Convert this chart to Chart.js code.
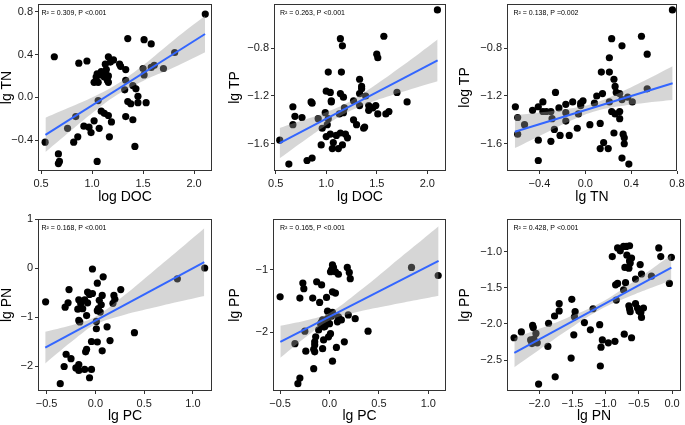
<!DOCTYPE html>
<html lang="en">
<head>
<meta charset="UTF-8">
<title>Nutrient regressions</title>
<script src="https://cdn.jsdelivr.net/npm/chart.js@4.4.0/dist/chart.umd.min.js"></script>
<style>
  body { margin: 0; background: #fff; }
  #wrap { position: relative; width: 685px; height: 425px; overflow: hidden; }
  canvas { position: absolute; }
</style>
</head>
<body>
<div id="wrap"></div>
<script>
// panel 1: log DOC vs lg TN
const p1x = [2.11,0.63,0.87,0.95,1.35,1.51,1.58,1.81,1.70,1.61, 1.58,1.50,1.51,1.16,1.21,1.18,1.13,1.27,1.28,1.33,
             1.14,1.13,1.09,1.05,1.04,1.08,1.12,1.16,1.02,1.06, 1.15,1.16,1.33,1.40,1.43,1.32,1.45,1.35,1.38,1.45,
             1.53,1.06,1.09,1.12,1.16,1.19,1.33,1.40,0.84,0.76, 0.92,0.97,1.02,0.99,1.07,1.17,0.86,0.82,0.54,1.42,
             0.67,0.68,0.67,1.05];
const p1y = [0.78,0.38,0.32,0.34,0.55,0.54,0.50,0.42,0.27,0.30, 0.28,0.27,0.21,0.38,0.35,0.33,0.31,0.31,0.29,0.26,
             0.26,0.23,0.24,0.22,0.19,0.21,0.19,0.20,0.14,0.14, 0.16,0.14,0.16,0.11,0.08,0.07,0.01,-0.04,-0.06,-0.05,
             -0.05,-0.03,-0.13,-0.15,-0.17,-0.23,-0.18,-0.21,-0.18,-0.29, -0.27,-0.28,-0.22,-0.33,-0.29,-0.37,-0.37,-0.42,-0.42,-0.46,
             -0.53,-0.60,-0.62,-0.60];
const p1fitX = [0.543, 2.108];
const p1fitY = [-0.351, 0.593];
const p1bandX = [0.543, 0.8, 1.05, 1.25, 1.5, 1.8, 2.108];
const p1bandHi = [-0.191, -0.087, 0.021, 0.126, 0.300, 0.535, 0.763];
const p1bandLo = [-0.511, -0.305, -0.111, 0.026, 0.154, 0.279, 0.423];

// panel 2: lg DOC vs lg TP
const p2x = [2.10,1.14,1.16,1.57,1.50,1.51,1.02,1.15,1.33,1.35, 1.35,1.33,1.00,1.04,1.14,1.17,1.39,1.70,1.80,1.27,
             1.05,1.05,0.85,0.86,1.33,1.42,1.49,1.46,1.42,0.67, 1.18,1.17,1.13,0.99,1.51,1.59,1.62,0.69,0.76,0.92,
             1.27,1.02,0.67,1.30,1.38,1.37,0.96,1.01,1.14,1.04, 1.00,1.10,1.19,1.21,0.54,0.95,1.07,1.16,1.06,1.12,
             0.86,0.81,0.63];
const p2y = [-0.48,-0.72,-0.78,-0.70,-0.85,-0.88,-1.00,-1.00,-1.06,-1.12, -1.14,-1.18,-1.16,-1.17,-1.18,-1.21,-1.20,-1.17,-1.25,-1.24,
             -1.24,-1.25,-1.25,-1.26,-1.28,-1.28,-1.28,-1.30,-1.32,-1.29, -1.30,-1.34,-1.35,-1.34,-1.35,-1.35,-1.33,-1.37,-1.38,-1.39,
             -1.40,-1.39,-1.44,-1.44,-1.46,-1.47,-1.47,-1.44,-1.51,-1.52, -1.54,-1.53,-1.52,-1.55,-1.57,-1.61,-1.59,-1.61,-1.64,-1.64,
             -1.72,-1.74,-1.77];
const p2fitX = [0.539, 2.102];
const p2fitY = [-1.594, -0.902];
const p2bandX = [0.539, 0.8, 1.0, 1.2, 1.45, 1.75, 2.102];
const p2bandHi = [-1.467, -1.395, -1.336, -1.261, -1.129, -0.950, -0.727];
const p2bandLo = [-1.722, -1.562, -1.444, -1.341, -1.251, -1.167, -1.077];

// panel 3: lg TN vs log TP
const p3x = [0.76,0.49,0.23,0.32,0.54,0.21,0.14,0.21,0.25,0.26, -0.26,0.15,0.27,0.30,0.10,0.54,0.41,0.37,0.32,0.21,
             0.08,-0.02,-0.04,-0.11,-0.17,-0.37,-0.41,-0.17,-0.23,-0.30, -0.34,-0.37,-0.61,-0.59,-0.46,-0.53,-0.59,-0.29,-0.27,-0.22,
             -0.17,-0.06,-0.04,-0.07,0.04,-0.14,-0.41,-0.30,-0.41,0.13, 0.23,0.26,0.30,0.30,0.25,0.33,0.34,0.34,0.16,0.13,
             0.20,0.32,0.38];
const p3y = [-0.48,-0.70,-0.72,-0.78,-0.85,-0.88,-1.00,-1.00,-1.06,-1.12, -1.17,-1.18,-1.17,-1.18,-1.20,-1.14,-1.25,-1.21,-1.23,-1.25,
             -1.26,-1.24,-1.26,-1.25,-1.27,-1.25,-1.29,-1.34,-1.30,-1.33, -1.33,-1.33,-1.29,-1.38,-1.32,-1.44,-1.52,-1.39,-1.48,-1.53,
             -1.41,-1.35,-1.28,-1.47,-1.44,-1.53,-1.57,-1.58,-1.74,-1.43, -1.33,-1.35,-1.33,-1.39,-1.51,-1.52,-1.55,-1.60,-1.59,-1.64,
             -1.64,-1.72,-1.77];
const p3fitX = [-0.614, 0.762];
const p3fitY = [-1.499, -1.093];
const p3bandX = [-0.614, -0.4, -0.15, 0.07, 0.3, 0.55, 0.762];
const p3bandHi = [-1.362, -1.339, -1.307, -1.262, -1.172, -1.056, -0.952];
const p3bandLo = [-1.636, -1.534, -1.417, -1.332, -1.286, -1.254, -1.234];

// panel 4: lg PC vs lg PN
const p4x = [1.12,0.84,-0.51,-0.03,0.08,0.02,-0.27,0.26,-0.28,-0.31, -0.17,-0.15,-0.11,-0.08,-0.06,-0.03,-0.08,-0.13,-0.18,0.04,
             0.07,0.06,0.03,0.19,0.20,0.18,0.02,0.05,-0.09,-0.17, -0.16,0.01,0.01,0.12,-0.30,-0.32,-0.25,-0.10,-0.09,-0.04,
             0.02,0.15,0.07,0.40,-0.17,-0.17,-0.11,-0.04,-0.06,-0.36, -0.20];
const p4y = [0.00,-0.22,-0.69,-0.02,-0.18,-0.31,-0.44,-0.44,-0.71,-0.80, -0.65,-0.73,-0.65,-0.49,-0.54,-0.52,-0.71,-0.83,-0.84,-0.66,
             -0.56,-0.75,-0.83,-0.56,-0.64,-0.72,-0.87,-0.90,-0.97,-1.07, -1.10,-1.09,-1.24,-1.20,-1.76,-2.01,-1.85,-1.71,-1.66,-1.50,
             -1.51,-1.48,-1.69,-1.32,-1.97,-2.09,-2.07,-2.07,-2.24,-2.36, -2.04];
const p4fitX = [-0.514, 1.116];
const p4fitY = [-1.626, 0.121];
const p4bandX = [-0.514, -0.2, 0.0, 0.3, 0.6, 0.85, 1.116];
const p4bandHi = [-1.303, -1.143, -0.995, -0.553, -0.058, 0.360, 0.811];
const p4bandLo = [-1.949, -1.435, -1.155, -0.953, -0.806, -0.688, -0.569];

// panel 5: lg PC vs lg PP
const p5x = [1.10,0.83,-0.50,0.03,0.04,0.02,0.06,0.09,0.01,0.18, 0.20,0.21,-0.27,-0.26,-0.13,-0.08,-0.30,-0.17,-0.10,-0.03,
             0.03,0.06,-0.02,0.03,0.02,-0.02,-0.07,-0.08,-0.09,-0.04, -0.05,0.00,-0.11,-0.06,0.09,0.08,0.12,0.19,0.26,0.01,
             -0.01,-0.06,-0.14,-0.15,-0.15,-0.16,-0.15,-0.25,-0.24,-0.07, 0.07,0.15,0.39,0.03,-0.16,-0.30,-0.32,-0.35];
const p5y = [-1.09,-0.96,-1.43,-0.92,-0.96,-1.00,-1.03,-1.07,-1.03,-0.96, -1.04,-1.14,-1.21,-1.30,-1.19,-1.24,-1.45,-1.45,-1.52,-1.44,
             -1.35,-1.37,-1.66,-1.68,-1.74,-1.78,-1.80,-1.83,-1.86,-1.88, -1.91,-1.86,-1.96,-1.91,-1.75,-1.83,-1.80,-1.72,-1.78,-2.02,
             -2.07,-2.12,-2.07,-2.15,-2.20,-2.27,-2.31,-1.98,-2.30,-2.26, -2.24,-2.15,-1.98,-2.46,-2.58,-2.73,-2.82,-2.18];
const p5fitX = [-0.498, 1.104];
const p5fitY = [-2.150, -0.856];
const p5bandX = [-0.498, -0.2, 0.0, 0.3, 0.6, 0.85, 1.104];
const p5bandHi = [-1.894, -1.792, -1.688, -1.343, -0.956, -0.631, -0.300];
const p5bandLo = [-2.407, -2.026, -1.808, -1.667, -1.570, -1.491, -1.412];

// panel 6: lg PN vs lg PP
const p6x = [-2.38,-2.27,-2.10,-2.09,-2.05,-2.13,-2.11,-2.08,-2.03,-2.01, -1.87,-1.86,-1.77,-1.70,-1.70,-1.76,-1.51,-1.46,-1.47,-1.48,
             -1.52,-1.32,-1.23,-1.19,-1.09,-1.05,-1.07,-1.08,-0.96,-0.86, -0.90,-0.82,-0.78,-0.73,-0.69,-0.64,-0.68,-0.61,-0.64,-0.71,
             -0.65,-0.63,-0.48,-0.46,-0.55,-0.31,-0.20,-0.17,-0.01,-0.04, -0.85,-0.82,-0.70,-0.73,-0.84,-0.65,-0.64,-0.63,-0.55,-0.52,
             -0.50,-0.46,-0.43,-0.47,-0.72,-0.61];
const p6y = [-2.19,-2.11,-2.02,-2.05,-2.13,-2.22,-2.27,-2.21,-2.26,-2.83, -2.31,-1.99,-1.89,-1.72,-1.82,-2.73,-1.66,-1.83,-1.90,-2.15,
             -2.47,-1.98,-2.08,-1.79,-2.01,-2.22,-2.32,-2.58,-2.26,-2.24, -1.07,-0.95,-0.99,-0.93,-0.93,-0.92,-1.05,-1.09,-1.13,-1.22,
             -1.23,-1.16,-1.18,-1.31,-1.38,-1.34,-0.95,-1.07,-1.08,-1.44, -1.46,-1.44,-1.43,-1.53,-1.67,-1.75,-1.79,-1.83,-1.72,-1.78,
             -1.82,-1.91,-1.78,-1.84,-2.14,-2.19];
const p6fitX = [-2.376, -0.01];
const p6fitY = [-2.398, -1.222];
const p6bandX = [-2.376, -2.0, -1.6, -1.1, -0.6, -0.3, -0.01];
const p6bandHi = [-2.198, -2.067, -1.924, -1.719, -1.427, -1.236, -1.049];
const p6bandLo = [-2.598, -2.356, -2.101, -1.809, -1.604, -1.496, -1.395];

const xTitles = ['log DOC', 'lg DOC', 'lg TN', 'lg PC', 'lg PC', 'lg PN'];
const yTitles = ['lg TN', 'lg TP', 'log TP', 'lg PN', 'lg PP', 'lg PP'];
const statText = ['R\u00B2 = 0.309, P <0.001', 'R\u00B2 = 0.263, P <0.001', 'R\u00B2 = 0.138, P =0.002',
                  'R\u00B2 = 0.168, P <0.001', 'R\u00B2 = 0.165, P <0.001', 'R\u00B2 = 0.428, P <0.001'];
const xTicks = [[0.5, 1, 1.5, 2], [0.5, 1, 1.5, 2], [-0.4, 0, 0.4, 0.8],
                [-0.5, 0, 0.5, 1], [-0.5, 0, 0.5, 1], [-2, -1.5, -1, -0.5, 0]];
const yTicks = [[-0.4, 0, 0.4, 0.8], [-1.6, -1.2, -0.8], [-1.6, -1.2, -0.8],
                [-2, -1, 0, 1], [-2, -1], [-2.5, -2, -1.5, -1]];
const yDecimals = [1, 1, 1, 0, 0, 1];
const xLimits = [[0.47, 2.176], [0.483, 2.185], [-0.683, 0.80], [-0.588, 1.195], [-0.572, 1.179], [-2.486, 0.135]];
const yLimits = [[-0.69, 0.874], [-1.828, -0.43], [-1.828, -0.43], [-2.51, 1.0], [-2.937, -0.186], [-2.925, -0.551]];

const series = [
  [p1x, p1y, p1fitX, p1fitY, p1bandX, p1bandHi, p1bandLo],
  [p2x, p2y, p2fitX, p2fitY, p2bandX, p2bandHi, p2bandLo],
  [p3x, p3y, p3fitX, p3fitY, p3bandX, p3bandHi, p3bandLo],
  [p4x, p4y, p4fitX, p4fitY, p4bandX, p4bandHi, p4bandLo],
  [p5x, p5y, p5fitX, p5fitY, p5bandX, p5bandHi, p5bandLo],
  [p6x, p6y, p6fitX, p6fitY, p6bandX, p6bandHi, p6bandLo]
];

// where each panel sits, and where its plot box sits inside it
const layout = [
  {left: 0,   top: 0,   w: 225, h: 205, box: {l: 38, r: 212, t: 1,  b: 171}, yt: 0, xt: 1, sx: 3.5},
  {left: 225, top: 0,   w: 225, h: 205, box: {l: 49, r: 222, t: 1,  b: 171}, yt: 3, xt: 1, sx: 6},
  {left: 450, top: 0,   w: 235, h: 205, box: {l: 57, r: 227, t: 1,  b: 171}, yt: 8, xt: 1, sx: 6.5},
  {left: 0,   top: 205, w: 225, h: 220, box: {l: 38, r: 212, t: 14, b: 186}, yt: 0, xt: 2, sx: 3.5},
  {left: 225, top: 205, w: 225, h: 220, box: {l: 48, r: 221, t: 14, b: 186}, yt: 3, xt: 2, sx: 7},
  {left: 450, top: 205, w: 235, h: 220, box: {l: 57, r: 231, t: 14, b: 186}, yt: 8, xt: 2, sx: 6.5}
];

const family = "'Liberation Sans', Arial, Helvetica, sans-serif";
const fmt = (v, d) => (v < 0 ? '\u2212' : '') + Math.abs(v).toFixed(d);
const pairs = (xs, ys) => xs.map((v, k) => ({x: v, y: ys[k]}));

const frame = {
  id: 'frame',
  afterDraw(chart, args, opts) {
    const {ctx, chartArea: a} = chart;
    ctx.save();
    ctx.strokeStyle = '#333';
    ctx.lineWidth = 1;
    ctx.strokeRect(a.left + 0.5, a.top + 0.5, a.right - a.left - 1, a.bottom - a.top - 1);
    ctx.fillStyle = '#000';
    ctx.font = '7px ' + family;
    ctx.textBaseline = 'middle';
    ctx.fillText(opts.text, a.left + opts.dx, a.top + 9.5);
    ctx.restore();
  }
};

const wrap = document.getElementById('wrap');

layout.forEach((p, i) => {
  const [xs, ys, fx, fy, bx, bhi, blo] = series[i];
  const cv = document.createElement('canvas');
  cv.width = p.w;
  cv.height = p.h;
  cv.style.left = p.left + 'px';
  cv.style.top = p.top + 'px';
  cv.style.width = p.w + 'px';
  cv.style.height = p.h + 'px';
  wrap.appendChild(cv);

  new Chart(cv, {
    type: 'scatter',
    data: {
      datasets: [
        {data: pairs(xs, ys), backgroundColor: '#000', pointRadius: 3.6, borderWidth: 0, order: 3, clip: false},
        {type: 'line', data: pairs(bx, bhi), borderColor: 'transparent', borderWidth: 0, pointRadius: 0,
         tension: 0.4, fill: '+1', backgroundColor: 'rgba(153,153,153,0.4)', order: 2},
        {type: 'line', data: pairs(bx, blo), borderColor: 'transparent', borderWidth: 0, pointRadius: 0,
         tension: 0.4, fill: false, order: 2},
        {type: 'line', data: pairs(fx, fy), borderColor: '#3366FF', borderWidth: 2, pointRadius: 0,
         fill: false, order: 1}
      ]
    },
    options: {
      responsive: false,
      animation: false,
      devicePixelRatio: 1,
      layout: {padding: {left: 0, top: p.box.t, right: p.w - p.box.r, bottom: 0}},
      plugins: {
        legend: {display: false},
        tooltip: {enabled: false},
        frame: {text: statText[i], dx: p.sx}
      },
      scales: {
        x: {
          type: 'linear',
          min: xLimits[i][0],
          max: xLimits[i][1],
          afterBuildTicks: s => { s.ticks = xTicks[i].map(v => ({value: v})); },
          afterFit: s => { s.height = p.h - p.box.b; s.paddingLeft = 0; s.paddingRight = 0; },
          ticks: {callback: v => fmt(v, 1), font: {family, size: 11}, color: '#1a1a1a',
                  padding: 3, maxRotation: 0, autoSkip: false},
          grid: {drawOnChartArea: false, drawTicks: true, tickLength: 3, color: '#333'},
          border: {display: false},
          title: {display: true, text: xTitles[i], color: '#000',
                  font: {family, size: 14, lineHeight: 1}, padding: {top: 0, bottom: p.xt}}
        },
        y: {
          type: 'linear',
          min: yLimits[i][0],
          max: yLimits[i][1],
          afterBuildTicks: s => { s.ticks = yTicks[i].map(v => ({value: v})); },
          afterFit: s => { s.width = p.box.l; s.paddingTop = 0; s.paddingBottom = 0; },
          ticks: {callback: v => fmt(v, yDecimals[i]), font: {family, size: 11}, color: '#1a1a1a',
                  padding: 2, autoSkip: false},
          grid: {drawOnChartArea: false, drawTicks: true, tickLength: 3, color: '#333'},
          border: {display: false},
          title: {display: true, text: yTitles[i], color: '#000',
                  font: {family, size: 14, lineHeight: 1}, padding: {top: p.yt, bottom: 0}}
        }
      }
    },
    plugins: [frame]
  });
});
</script>
</body>
</html>
